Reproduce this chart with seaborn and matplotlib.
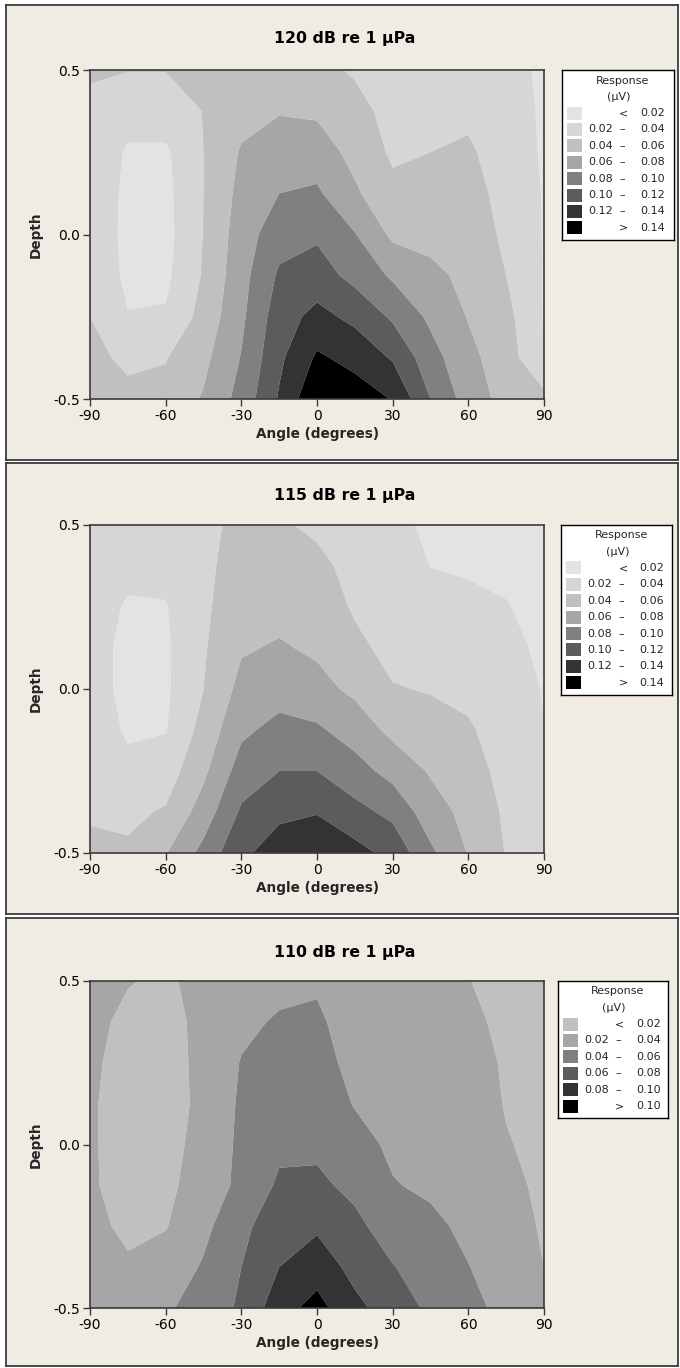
import numpy as np
import matplotlib
matplotlib.use("Agg")
import matplotlib.pyplot as plt
from matplotlib.patches import Rectangle
import seaborn as sns

# grid the contours are drawn from
angles = [-90, -75, -60, -45, -30, -15, 0, 15, 30, 45, 60, 75, 90]
depths = [0.5, 0.375, 0.25, 0.125, 0.0, -0.125, -0.25, -0.375, -0.5]

# response (uV), one row per depth (top to bottom), one column per angle
resp_120 = [
    [0.0405, 0.0405, 0.0405, 0.043, 0.045, 0.047, 0.045, 0.038, 0.030, 0.027, 0.027, 0.024, 0.018],
    [0.039, 0.030, 0.030, 0.0405, 0.053, 0.059, 0.057, 0.046, 0.034, 0.034, 0.036, 0.027, 0.018],
    [0.039, 0.017, 0.017, 0.040, 0.062, 0.068, 0.070, 0.054, 0.037, 0.040, 0.043, 0.030, 0.018],
    [0.039, 0.014, 0.015, 0.040, 0.066, 0.080, 0.083, 0.063, 0.045, 0.047, 0.048, 0.033, 0.019],
    [0.039, 0.013, 0.014, 0.0405, 0.070, 0.092, 0.097, 0.081, 0.056, 0.055, 0.052, 0.036, 0.019],
    [0.039, 0.015, 0.016, 0.042, 0.073, 0.103, 0.109, 0.094, 0.077, 0.064, 0.056, 0.040, 0.019],
    [0.040, 0.021, 0.022, 0.047, 0.076, 0.111, 0.126, 0.115, 0.097, 0.076, 0.059, 0.046, 0.019],
    [0.044, 0.037, 0.039, 0.055, 0.081, 0.116, 0.143, 0.134, 0.118, 0.088, 0.065, 0.050, 0.0205],
    [0.047, 0.044, 0.046, 0.062, 0.087, 0.122, 0.158, 0.150, 0.139, 0.100, 0.071, 0.053, 0.046],
]
resp_115 = [
    [0.032, 0.030, 0.030, 0.034, 0.046, 0.042, 0.037, 0.032, 0.023, 0.018, 0.016, 0.014, 0.012],
    [0.030, 0.025, 0.025, 0.035, 0.050, 0.048, 0.044, 0.035, 0.027, 0.0198, 0.018, 0.016, 0.013],
    [0.029, 0.018, 0.019, 0.036, 0.054, 0.054, 0.050, 0.038, 0.031, 0.026, 0.024, 0.021, 0.014],
    [0.028, 0.015, 0.017, 0.038, 0.058, 0.062, 0.057, 0.044, 0.035, 0.033, 0.031, 0.026, 0.016],
    [0.028, 0.015, 0.017, 0.040, 0.066, 0.072, 0.066, 0.056, 0.041, 0.039, 0.036, 0.029, 0.019],
    [0.029, 0.018, 0.019, 0.047, 0.076, 0.086, 0.083, 0.071, 0.055, 0.046, 0.042, 0.032, 0.0205],
    [0.032, 0.024, 0.030, 0.056, 0.089, 0.100, 0.100, 0.088, 0.073, 0.058, 0.048, 0.034, 0.023],
    [0.038, 0.036, 0.042, 0.069, 0.103, 0.117, 0.119, 0.106, 0.095, 0.069, 0.054, 0.037, 0.026],
    [0.044, 0.043, 0.059, 0.086, 0.117, 0.127, 0.134, 0.127, 0.114, 0.084, 0.059, 0.039, 0.029],
]
resp_110 = [
    [0.030, 0.021, 0.017, 0.026, 0.031, 0.035, 0.038, 0.030, 0.027, 0.025, 0.0205, 0.014, 0.012],
    [0.025, 0.016, 0.015, 0.024, 0.036, 0.042, 0.0425, 0.033, 0.029, 0.027, 0.024, 0.016, 0.013],
    [0.023, 0.014, 0.014, 0.024, 0.041, 0.046, 0.045, 0.036, 0.031, 0.029, 0.027, 0.018, 0.014],
    [0.022, 0.013, 0.013, 0.024, 0.043, 0.051, 0.050, 0.039, 0.034, 0.031, 0.029, 0.019, 0.015],
    [0.022, 0.013, 0.014, 0.026, 0.044, 0.056, 0.056, 0.046, 0.037, 0.034, 0.031, 0.021, 0.016],
    [0.022, 0.014, 0.016, 0.028, 0.045, 0.063, 0.064, 0.055, 0.041, 0.037, 0.033, 0.024, 0.017],
    [0.024, 0.017, 0.019, 0.035, 0.055, 0.072, 0.077, 0.065, 0.050, 0.044, 0.036, 0.028, 0.018],
    [0.028, 0.022, 0.028, 0.042, 0.060, 0.080, 0.091, 0.074, 0.061, 0.050, 0.0405, 0.031, 0.020],
    [0.032, 0.027, 0.037, 0.049, 0.063, 0.092, 0.107, 0.085, 0.071, 0.056, 0.046, 0.034, 0.024],
]

titles = ["120 dB re 1 µPa", "115 dB re 1 µPa", "110 dB re 1 µPa"]
levels_hi = [0.02, 0.04, 0.06, 0.08, 0.10, 0.12, 0.14]
levels_lo = [0.02, 0.04, 0.06, 0.08, 0.10]
greys_hi = ["#e3e3e3", "#d6d6d6", "#c0c0c0", "#a6a6a6", "#808080", "#5c5c5c", "#333333", "#000000"]
greys_lo = ["#c0c0c0", "#a6a6a6", "#808080", "#5c5c5c", "#333333", "#000000"]

sns.set_theme(style="ticks")
plt.rcParams["font.family"] = ["DejaVu Sans"]
plt.rcParams["axes.unicode_minus"] = False

W, H = 680, 1368
bg = "#f0ece3"
edge = "#3a3a3a"


def fig_rect(x0, y0, x1, y1):
    # pixel box (top-left origin) -> figure fraction rect
    return [x0 / W, 1 - y1 / H, (x1 - x0) / W, (y1 - y0) / H]


# pixel layout of each panel
panels = [
    dict(box=(6, 5, 678, 460), plot=(90, 70, 544, 399), leg=(562, 70, 674), title_y=39),
    dict(box=(6, 463, 678, 914), plot=(90, 525, 544, 853), leg=(561, 525, 672), title_y=495),
    dict(box=(6, 918, 678, 1366), plot=(90, 981, 544, 1308), leg=(558, 981, 668), title_y=952),
]
data = [(resp_120, levels_hi, greys_hi), (resp_115, levels_hi, greys_hi), (resp_110, levels_lo, greys_lo)]

fig = plt.figure(figsize=(6.8, 13.68), dpi=100, facecolor="white")

for p, (z, levs, cols), title in zip(panels, data, titles):
    # beige panel with its frame, drawn as a background axes
    bax = fig.add_axes(fig_rect(*p["box"]), zorder=-5)
    bax.set_facecolor(bg)
    bax.set_xticks([])
    bax.set_yticks([])
    for s in bax.spines.values():
        s.set_color(edge)
        s.set_linewidth(1.3)
    fig.text(345 / W, 1 - p["title_y"] / H, title, ha="center", va="center",
             fontsize=11.3, fontweight="bold", color="black")

    ax = fig.add_axes(fig_rect(*p["plot"]))
    zz = np.array(z)[::-1]
    yy = np.array(depths)[::-1]
    ax.contourf(angles, yy, zz, levels=[-1] + levs + [1], colors=cols, antialiased=True)
    ax.set_xlim(-90, 90)
    ax.set_ylim(-0.5, 0.5)
    ax.set_xticks([-90, -60, -30, 0, 30, 60, 90])
    ax.set_yticks([-0.5, 0.0, 0.5])
    ax.set_yticklabels(["-0.5", "0.0", "0.5"])
    ax.tick_params(direction="out", length=5, width=1, color=edge, labelsize=10, pad=2, labelcolor="black")
    for s in ax.spines.values():
        s.set_color(edge)
        s.set_linewidth(1.2)
    ax.text(0.5, -0.107, "Angle (degrees)", transform=ax.transAxes, ha="center", va="center",
            fontsize=9.8, fontweight="bold")
    ax.text(-0.119, 0.5, "Depth", transform=ax.transAxes, ha="center", va="center",
            rotation=90, fontsize=9.8, fontweight="bold")

    # legend box
    n = len(cols)
    lx0, ly0, lx1 = p["leg"]
    lh = 43 + (n - 1) * 16.4 + 12
    lw = lx1 - lx0
    lax = fig.add_axes(fig_rect(lx0, ly0, lx1, ly0 + lh))
    lax.set_xlim(0, lw)
    lax.set_ylim(lh, 0)
    lax.set_xticks([])
    lax.set_yticks([])
    lax.set_facecolor("white")
    for s in lax.spines.values():
        s.set_color("black")
        s.set_linewidth(1.0)
    lax.text(lw / 2 + 5, 10.5, "Response", ha="center", va="center", fontsize=8)
    lax.text(lw / 2 + 1, 27, "(µV)", ha="center", va="center", fontsize=8)
    for i, c in enumerate(cols):
        yc = 43 + i * 16.4
        lax.add_patch(Rectangle((5, yc - 6.5), 15, 13, facecolor=c, edgecolor="none"))
        if i == 0:
            lax.text(62, yc, "<", ha="center", va="center", fontsize=8)
            lax.text(78, yc, f"{levs[0]:.2f}", ha="left", va="center", fontsize=8)
        elif i == n - 1:
            lax.text(62, yc, ">", ha="center", va="center", fontsize=8)
            lax.text(78, yc, f"{levs[-1]:.2f}", ha="left", va="center", fontsize=8)
        else:
            lax.text(51, yc, f"{levs[i - 1]:.2f}", ha="right", va="center", fontsize=8)
            lax.text(60, yc, "–", ha="center", va="center", fontsize=8)
            lax.text(78, yc, f"{levs[i]:.2f}", ha="left", va="center", fontsize=8)

fig.savefig("out.png", dpi=100, facecolor="white")
